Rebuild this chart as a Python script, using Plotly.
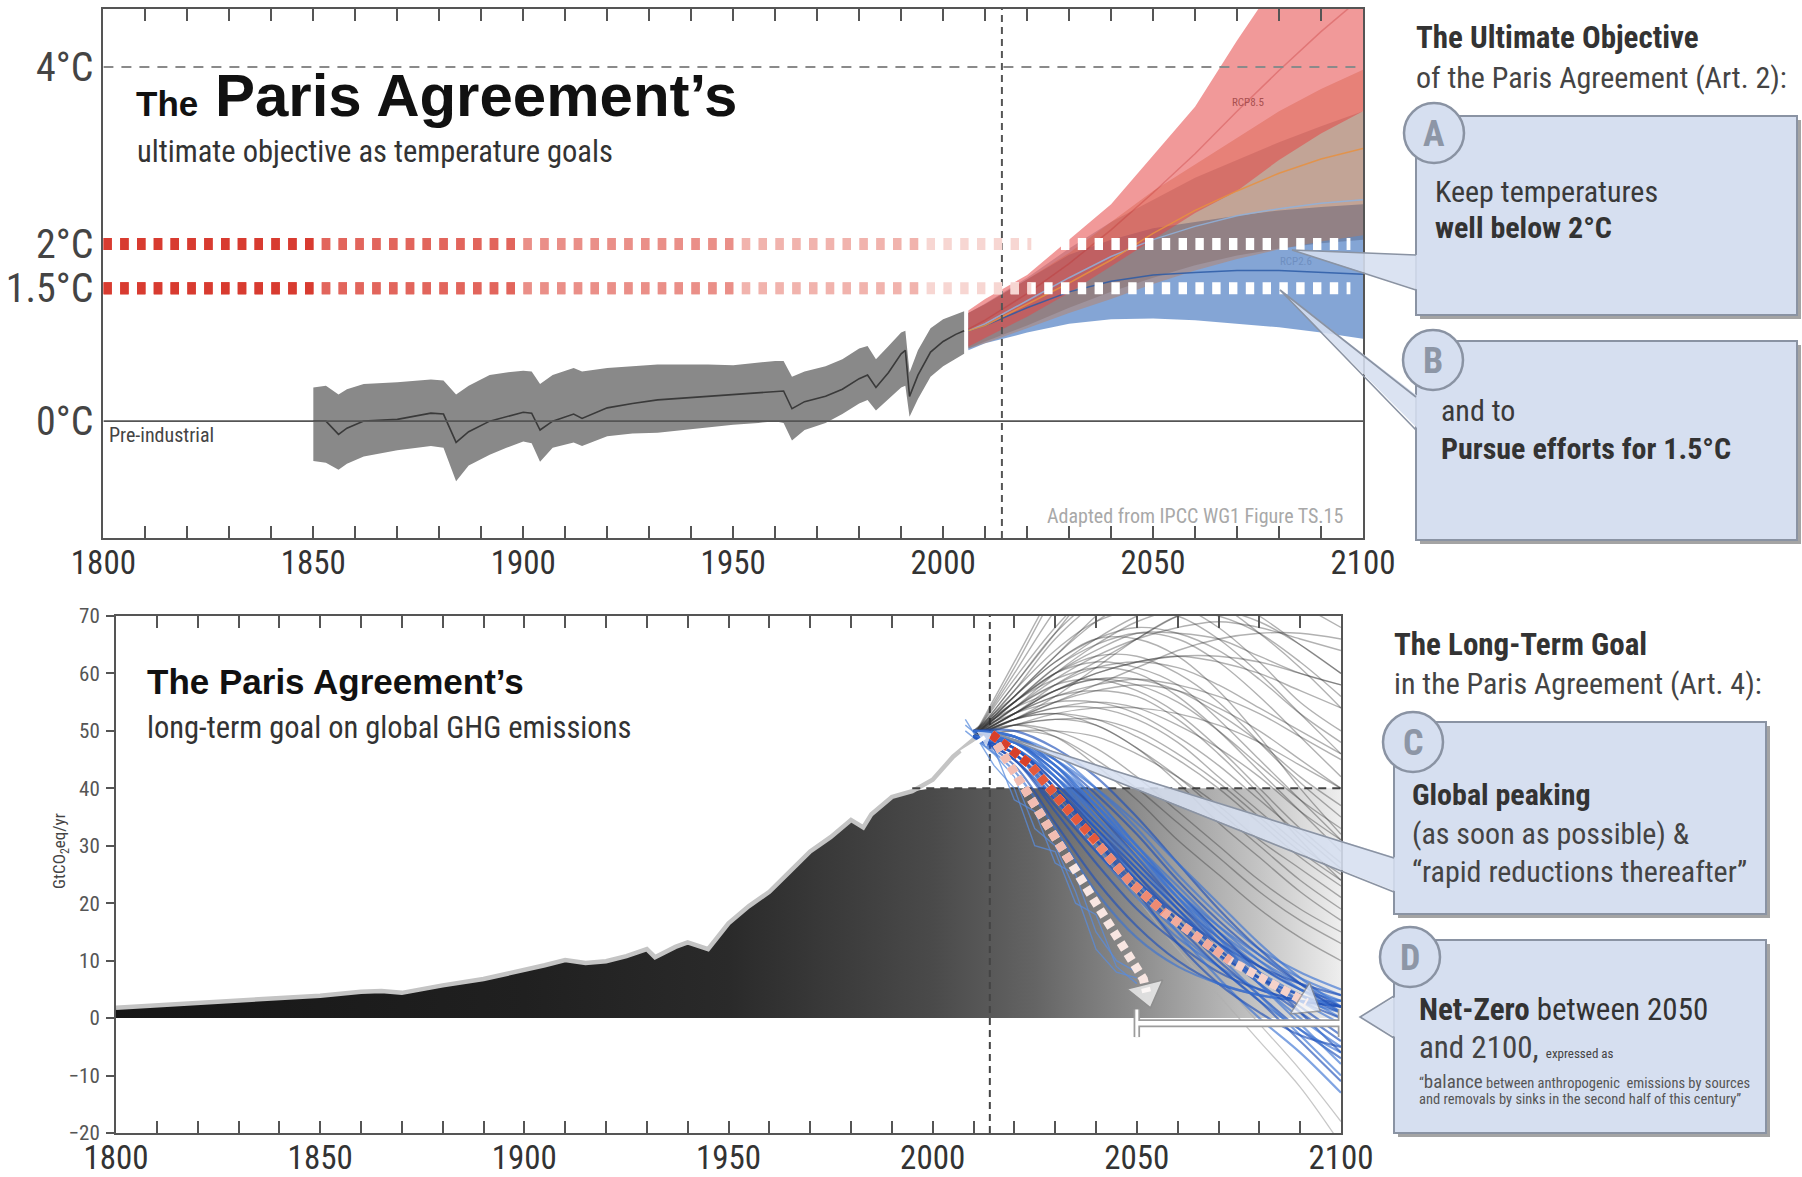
import numpy as np
import plotly.graph_objects as go

W, H = 1802, 1177
NARROW = "Roboto Condensed, DejaVu Sans Condensed, sans-serif"
SANS = "Liberation Sans, Arial, sans-serif"

# ---------------- temperature panel data (°C above pre-industrial) ----------------
hist_years = [1850, 1853, 1856, 1858, 1862, 1870, 1878, 1881, 1884, 1887, 1892, 1896, 1900, 1902,
              1904, 1907, 1912, 1914, 1920, 1926, 1932, 1938, 1944, 1950, 1956, 1960, 1962, 1964,
              1967, 1972, 1976, 1980, 1982, 1984, 1987, 1990, 1991, 1992, 1994, 1997, 2000, 2003, 2005]
hist_mean = [0.0, 0.0, -0.15, -0.08, 0.0, 0.02, 0.09, 0.08, -0.24, -0.12, 0.0, 0.05, 0.1, 0.09,
             -0.1, 0.0, 0.08, 0.03, 0.15, 0.2, 0.24, 0.26, 0.28, 0.3, 0.32, 0.34, 0.34, 0.14,
             0.22, 0.28, 0.36, 0.48, 0.52, 0.38, 0.55, 0.76, 0.8, 0.28, 0.52, 0.78, 0.9, 0.98, 1.02]
hist_lo = [-0.45, -0.47, -0.55, -0.48, -0.4, -0.33, -0.28, -0.3, -0.68, -0.5, -0.38, -0.3, -0.23, -0.25,
           -0.46, -0.3, -0.24, -0.28, -0.17, -0.14, -0.13, -0.1, -0.07, -0.04, -0.02, 0.0, -0.02, -0.22,
           -0.1, -0.02, 0.08, 0.2, 0.24, 0.12, 0.25, 0.38, 0.4, 0.05, 0.25, 0.5, 0.62, 0.7, 0.76]
hist_hi = [0.38, 0.4, 0.3, 0.36, 0.42, 0.44, 0.47, 0.46, 0.3, 0.4, 0.52, 0.55, 0.57, 0.56,
           0.42, 0.52, 0.6, 0.56, 0.6, 0.62, 0.64, 0.64, 0.64, 0.63, 0.66, 0.68, 0.68, 0.5,
           0.56, 0.62, 0.7, 0.82, 0.85, 0.7, 0.85, 1.0, 1.02, 0.55, 0.8, 1.05, 1.15, 1.2, 1.24]

proj_years = [2006, 2010, 2020, 2030, 2040, 2050, 2060, 2070, 2080, 2090, 2100]
rcp26_lo = [0.80, 0.88, 1.00, 1.10, 1.15, 1.16, 1.14, 1.10, 1.06, 1.00, 0.93]
rcp26_hi = [1.22, 1.32, 1.60, 1.88, 2.05, 2.18, 2.25, 2.32, 2.38, 2.42, 2.45]
rcp26_mean = [1.02, 1.08, 1.28, 1.46, 1.58, 1.65, 1.68, 1.70, 1.70, 1.68, 1.66]
rcp45_lo = [0.82, 0.90, 1.08, 1.28, 1.46, 1.62, 1.76, 1.87, 1.95, 2.01, 2.05]
rcp45_hi = [1.22, 1.33, 1.62, 1.95, 2.25, 2.50, 2.75, 2.95, 3.15, 3.33, 3.50]
rcp45_mean = [1.02, 1.10, 1.36, 1.62, 1.86, 2.05, 2.20, 2.32, 2.40, 2.46, 2.50]
rcp60_lo = [0.82, 0.88, 1.05, 1.22, 1.38, 1.55, 1.70, 1.83, 1.94, 2.03, 2.10]
rcp60_hi = [1.22, 1.32, 1.60, 1.90, 2.25, 2.60, 2.90, 3.20, 3.50, 3.75, 3.97]
rcp60_mean = [1.02, 1.08, 1.32, 1.56, 1.82, 2.12, 2.38, 2.60, 2.80, 2.96, 3.08]
rcp85_lo = [0.84, 0.94, 1.18, 1.45, 1.75, 2.05, 2.35, 2.60, 2.95, 3.25, 3.50]
rcp85_hi = [1.25, 1.38, 1.65, 2.05, 2.45, 3.00, 3.55, 4.30, 5.00, 5.60, 6.20]
rcp85_mean = [1.04, 1.14, 1.44, 1.78, 2.16, 2.58, 3.02, 3.50, 3.96, 4.40, 4.80]

goal_well_below = 2.0
goal_pursue = 1.5
ref_level_4c = 4.0
today_year = 2014

temp_ticks = [0, 1.5, 2, 4]
temp_tick_text = ["0°C", "1.5°C", "2°C", "4°C"]
year_ticks = [1800, 1850, 1900, 1950, 2000, 2050, 2100]

# ---------------- emissions panel data (GtCO2eq/yr) ----------------
em_years = [1800, 1810, 1820, 1830, 1840, 1850, 1860, 1865, 1870, 1880, 1890, 1900, 1905, 1910,
            1915, 1920, 1925, 1930, 1932, 1937, 1940, 1945, 1950, 1955, 1960, 1965, 1970, 1975,
            1980, 1983, 1985, 1990, 1995, 2000, 2005, 2010, 2012]
em_vals = [1.8, 2.2, 2.6, 3.0, 3.4, 3.9, 4.6, 4.7, 4.4, 5.7, 6.8, 8.3, 9.2, 10.1,
           9.6, 9.9, 10.8, 12.0, 10.6, 12.4, 13.2, 12.0, 16.5, 19.5, 22.0, 25.5, 29.0, 31.5,
           34.5, 33.2, 35.5, 38.5, 39.5, 41.5, 45.5, 48.5, 49.5]
budget_level = 40
net_zero_window = [2050, 2100]
em_ticks = list(range(-20, 71, 10))

scen_years = [2010, 2020, 2030, 2040, 2050, 2060, 2070, 2080, 2090, 2100]
grey_paths = [
    [49, 58, 67, 76, 84, 92, 98, 104, 108, 112],
    [49, 56, 63, 70, 76, 80, 84, 86, 88, 90],
    [49, 55, 61, 66, 70, 73, 74, 74, 73, 72],
    [49, 54, 59, 63, 66, 68, 69, 68, 66, 64],
    [50, 55, 60, 64, 67, 67, 66, 63, 60, 58],
    [49, 53, 57, 60, 62, 63, 62, 60, 57, 54],
    [49, 54, 58, 61, 62, 61, 58, 54, 50, 46],
    [49, 53, 56, 58, 59, 58, 56, 53, 49, 45],
    [50, 56, 62, 66, 68, 67, 64, 59, 53, 48],
    [49, 52, 55, 57, 58, 57, 54, 50, 45, 40],
    [49, 53, 57, 59, 59, 57, 53, 48, 42, 37],
    [49, 55, 60, 63, 63, 60, 55, 48, 41, 35],
    [49, 52, 54, 55, 54, 51, 47, 42, 36, 31],
    [49, 54, 58, 59, 57, 53, 47, 40, 33, 27],
    [50, 53, 55, 55, 53, 49, 44, 38, 32, 26],
    [49, 52, 53, 52, 49, 45, 40, 34, 28, 23],
    [49, 51, 52, 51, 47, 42, 36, 30, 24, 19],
    [49, 52, 53, 51, 47, 41, 34, 28, 22, 17],
    [49, 51, 50, 47, 42, 36, 30, 24, 19, 15],
    [49, 50, 49, 45, 40, 34, 28, 22, 17, 13],
    [49, 51, 49, 44, 38, 31, 25, 19, 14, 10],
    [49, 57, 66, 72, 74, 72, 68, 62, 55, 50],
    [49, 58, 67, 73, 76, 76, 74, 70, 65, 60],
    [49, 53, 58, 62, 66, 70, 72, 73, 73, 72],
    [49, 52, 55, 58, 61, 64, 66, 67, 67, 66],
    [50, 54, 57, 60, 62, 63, 63, 62, 60, 58],
    [49, 51, 53, 54, 54, 53, 51, 48, 44, 40],
    [49, 50, 50, 49, 46, 42, 37, 31, 26, 21],
    [49, 56, 62, 66, 66, 63, 57, 49, 40, 32],
    [49, 55, 60, 62, 61, 58, 52, 45, 38, 31],
    [49, 61, 74, 85, 94, 100, 105, 108, 110, 112],
    [49, 60, 71, 80, 86, 90, 92, 93, 93, 92],
    [49, 59, 68, 75, 79, 80, 79, 76, 72, 68],
    [49, 52, 56, 61, 66, 70, 71, 69, 65, 60],
    [49, 53, 56, 57, 56, 52, 46, 39, 31, 24],
    [49, 55, 61, 65, 67, 66, 62, 56, 49, 42],
    [49, 57, 64, 69, 71, 70, 66, 60, 53, 46],
    [49, 55, 59, 61, 60, 56, 50, 43, 36, 29],
    [49, 53, 57, 59, 58, 55, 50, 44, 38, 33],
    [49, 54, 60, 65, 69, 71, 70, 67, 62, 56],
    [49, 56, 63, 69, 73, 74, 72, 67, 61, 54],
    [49, 52, 54, 54, 52, 48, 42, 36, 30, 25],
    [49, 62, 75, 86, 95, 102, 108, 112, 115, 118],
    [49, 51, 52, 52, 50, 46, 41, 35, 29, 24],
]
pale_paths = [
    [49, 47, 41, 33, 24, 15, 7, -1, -9, -18],
    [49, 46, 39, 30, 21, 12, 4, -4, -12, -22],
]
blue_paths = [
    [49, 47, 40, 32, 24, 17, 11, 7, 4, 2],
    [49, 48, 42, 34, 26, 19, 13, 8, 4, 0],
    [50, 49, 44, 36, 28, 20, 13, 7, 2, -3],
    [49, 46, 38, 29, 21, 14, 9, 5, 3, 1],
    [49, 47, 41, 33, 25, 17, 10, 4, -2, -7],
    [50, 48, 43, 35, 27, 19, 11, 4, -3, -10],
    [49, 45, 36, 27, 19, 13, 8, 5, 3, 2],
    [49, 48, 44, 38, 30, 22, 15, 9, 5, 3],
    [49, 49, 45, 39, 32, 24, 17, 11, 6, 2],
    [50, 48, 42, 33, 24, 15, 7, 0, -6, -13],
    [49, 44, 34, 24, 16, 10, 6, 4, 3, 2],
    [49, 46, 38, 30, 22, 15, 9, 3, -2, -6],
    [49, 47, 40, 31, 22, 13, 6, 1, -3, -5],
    [50, 49, 46, 40, 33, 25, 18, 12, 8, 5],
    [49, 45, 37, 29, 22, 16, 11, 7, 4, 1],
    [49, 47, 42, 35, 28, 21, 15, 10, 6, 3],
    [49, 46, 39, 31, 23, 16, 9, 3, -4, -11],
    [49, 43, 33, 22, 14, 9, 6, 4, 3, 3],
    [49, 48, 43, 36, 29, 22, 15, 8, 1, -6],
    [50, 49, 45, 38, 30, 22, 14, 6, -1, -8],
    [50, 50, 47, 42, 35, 27, 19, 12, 6, 1],
    [49, 48, 45, 40, 34, 27, 20, 13, 7, 2],
    [49, 47, 41, 34, 27, 20, 14, 9, 5, 2],
    [50, 48, 43, 37, 30, 23, 16, 10, 5, 1],
    [49, 46, 40, 33, 26, 19, 12, 6, 1, -4],
    [49, 47, 42, 36, 29, 22, 16, 11, 7, 4],
    [50, 47, 40, 32, 25, 18, 12, 7, 3, 0],
    [49, 48, 44, 37, 29, 21, 13, 6, 0, -5],
    [49, 45, 38, 31, 24, 18, 13, 9, 6, 4],
    [50, 49, 44, 37, 29, 21, 14, 8, 3, -1],
]
early_years = [2008, 2015, 2020, 2025, 2030, 2035, 2040, 2045, 2050]
early_paths = [
    [51, 47, 38, 36, 27, 25, 15, 10, 8],
    [52, 44, 40, 30, 29, 20, 18, 9, 6],
    [50, 46, 42, 33, 30, 22, 12, 8, 7],
]

# guide arrows drawn over the emission pathways
peak_arrow_years = [2014.4, 2023.8, 2032.0, 2040.1, 2048.3, 2056.5, 2064.7, 2072.8, 2081.0, 2087.5, 2091.6]
peak_arrow_vals = [49.4, 44.2, 37.2, 30.8, 23.8, 18.5, 14.4, 10.0, 6.8, 4.5, 2.7]
fast_arrow_years = [2015.7, 2025.5, 2033.6, 2041.8, 2048.3, 2051.6, 2052.4]
fast_arrow_vals = [47.7, 36.6, 27.3, 17.9, 10.9, 6.8, 4.5]
peak_pointer_years = [2007.0, 2012.8]
peak_pointer_vals = [46.3, 48.9]

# ---------------- figure ----------------
fig = go.Figure()


def pxx(x):
    return x / W


def pxy(y):
    return 1 - y / H


T = dict(xaxis="x", yaxis="y")
B = dict(xaxis="x2", yaxis="y2")


def band(xs, lo, hi, color, ax):
    fig.add_trace(go.Scatter(x=xs, y=lo, mode="lines", line=dict(width=0), hoverinfo="skip", **ax))
    fig.add_trace(go.Scatter(x=xs, y=hi, mode="lines", line=dict(width=0), fill="tonexty",
                             fillcolor=color, hoverinfo="skip", **ax))


# historical simulations
band(hist_years, hist_lo, hist_hi, "#898989", T)
fig.add_trace(go.Scatter(x=hist_years, y=hist_mean, mode="lines", line=dict(color="#3a3a3a", width=1.6), **T))

# RCP projections
band(proj_years, rcp26_lo, rcp26_hi, "rgba(50,105,185,0.6)", T)
band(proj_years, rcp45_lo, rcp45_hi, "rgba(70,80,110,0.35)", T)
band(proj_years, rcp60_lo, rcp60_hi, "rgba(200,120,70,0.4)", T)
band(proj_years, rcp85_lo, rcp85_hi, "rgba(230,70,70,0.55)", T)
for m, c in [(rcp26_mean, "rgba(43,90,166,0.85)"), (rcp45_mean, "rgba(143,178,220,0.85)"),
             (rcp60_mean, "rgba(232,145,63,0.85)"), (rcp85_mean, "rgba(190,40,40,0.3)")]:
    fig.add_trace(go.Scatter(x=proj_years, y=m, mode="lines", line=dict(color=c, width=1.5), **T))

# reference lines
fig.add_trace(go.Scatter(x=[1800, 2100], y=[ref_level_4c] * 2, mode="lines",
                         line=dict(color="#8a8a8a", width=2, dash="10px,8px"), **T))
fig.add_trace(go.Scatter(x=[1800, 2100], y=[0, 0], mode="lines", line=dict(color="#555", width=1.6), **T))
fig.add_trace(go.Scatter(x=[today_year] * 2, y=[-1.32, 4.655], mode="lines",
                         line=dict(color="#555", width=2, dash="7px,5px"), **T))

# goal levels as thick dotted bars, red fading to white
goal_fade = [(2097, "#ffffff"), (2021, "#f7d6d2"), (1995, "#f1b3ad"), (1950, "#ea8f88"),
             (1900, "#e2655c"), (1850, "#d83b30")]
for level in [goal_well_below, goal_pursue]:
    for end, col in goal_fade:
        fig.add_trace(go.Scatter(x=[1800, end], y=[level, level], mode="lines",
                                 line=dict(color=col, width=12, dash="8.4px,8.4px"), **T))

fig.add_annotation(x=2072.5, y=3.6, xref="x", yref="y", text="RCP8.5", showarrow=False,
                   font=dict(size=11, color="#a85050", family=NARROW))
fig.add_annotation(x=2084, y=1.8, xref="x", yref="y", text="RCP2.6", showarrow=False,
                   font=dict(size=11, color="#6f8fc0", family=NARROW))

# ---------------- emissions panel traces ----------------
area_x = em_years + [2100]
area_y = np.minimum(em_vals, budget_level).tolist() + [budget_level]
fig.add_trace(go.Scatter(
    x=area_x, y=area_y, mode="lines", line=dict(width=0), fill="tozeroy",
    fillgradient=dict(type="horizontal", colorscale=[
        [0.0, "#161616"], [0.333, "#202020"], [0.5, "#2a2a2a"], [0.667, "#4a4a4a"],
        [0.75, "#646464"], [0.833, "#8c8c8c"], [0.933, "#c4c4c4"], [1.0, "#eeeeee"]]),
    hoverinfo="skip", **B))
fig.add_trace(go.Scatter(x=em_years, y=em_vals, mode="lines", line=dict(color="#c4c4c4", width=4.5), **B))

fig.add_trace(go.Scatter(x=[1995, 2100], y=[budget_level] * 2, mode="lines",
                         line=dict(color="#444", width=2, dash="8px,6px"), **B))
fig.add_trace(go.Scatter(x=[today_year] * 2, y=[-20, 70], mode="lines",
                         line=dict(color="#444", width=2, dash="7px,5px"), **B))

for p in grey_paths:
    fig.add_trace(go.Scatter(x=scen_years, y=p, mode="lines",
                             line=dict(color="rgba(50,50,50,0.38)", width=1.4, shape="spline"), **B))
for p in pale_paths:
    fig.add_trace(go.Scatter(x=scen_years, y=p, mode="lines",
                             line=dict(color="rgba(175,175,175,0.7)", width=1.3, shape="spline"), **B))
for p in early_paths:
    fig.add_trace(go.Scatter(x=early_years, y=p, mode="lines",
                             line=dict(color="rgba(90,140,220,0.75)", width=1.4), **B))
for i, p in enumerate(blue_paths):
    col = "rgba(30,80,185,0.65)" if i % 2 == 0 else "rgba(60,115,210,0.65)"
    fig.add_trace(go.Scatter(x=scen_years, y=p, mode="lines",
                             line=dict(color=col, width=2.2, shape="spline"), **B))

# net-zero window bracket
nz0, nz1 = net_zero_window
for col, w in [("#9c9c9c", 8), ("#ffffff", 4.5)]:
    fig.add_trace(go.Scatter(x=[nz0, nz1], y=[-0.9, -0.9], mode="lines", line=dict(color=col, width=w), **B))
    fig.add_trace(go.Scatter(x=[nz0, nz0, None, nz1, nz1], y=[-3.3, 1.5, None, -3.3, 1.5], mode="lines",
                             line=dict(color=col, width=w - 1.5), **B))

# dotted guide arrows (red fading to white)
for n, col in [(len(peak_arrow_years), "#f6d2ca"), (8, "#f3ab9c"), (6, "#ee8a72"), (4, "#e4593c"), (2, "#d8402a")]:
    fig.add_trace(go.Scatter(x=peak_arrow_years[:n], y=peak_arrow_vals[:n], mode="lines",
                             line=dict(color=col, width=9, dash="8px,5px"), **B))
for n, col in [(len(fast_arrow_years), "#f8e6e2"), (3, "#f2bdb2")]:
    fig.add_trace(go.Scatter(x=fast_arrow_years[:n], y=fast_arrow_vals[:n], mode="lines",
                             line=dict(color=col, width=9, dash="8px,5px"), **B))
for xs, ys in [(peak_arrow_years, peak_arrow_vals), (fast_arrow_years, fast_arrow_vals)]:
    fig.add_trace(go.Scatter(x=xs[-2:], y=ys[-2:], mode="markers",
                             marker=dict(symbol="triangle-up", size=[0, 32], angleref="previous",
                                         color="#ffffff", line=dict(color="#8c8c8c", width=1.5)), **B))

# white pointer onto the emissions peak
fig.add_trace(go.Scatter(x=peak_pointer_years, y=peak_pointer_vals, mode="lines+markers",
                         line=dict(color="#ffffff", width=4),
                         marker=dict(symbol="triangle-up", size=[0, 14], angleref="previous", color="#ffffff"), **B))

# ---------------- axes ----------------
tick_font = dict(family=NARROW, size=33, color="#333")
axis_common = dict(showgrid=False, zeroline=False, showline=True, linecolor="#555", linewidth=2,
                   mirror=True, automargin=False)
x_common = dict(range=[1800, 2100], tickvals=year_ticks, ticks="inside", ticklen=12, tickwidth=2, tickcolor="#555",
                minor=dict(ticks="inside", dtick=10, tick0=1800, ticklen=12, tickwidth=2, tickcolor="#555"),
                tickfont=tick_font, ticklabelstandoff=-6)
fig.update_layout(
    width=W, height=H, margin=dict(l=0, r=0, t=0, b=0, autoexpand=False),
    paper_bgcolor="white", plot_bgcolor="white", showlegend=False,
    xaxis=dict(domain=[103.4 / W, 1363 / W], anchor="y", **x_common, **{**axis_common, "mirror": "ticks"}),
    yaxis=dict(domain=[1 - 538 / H, 1 - 9 / H], range=[-1.32, 4.655], anchor="x",
               tickvals=temp_ticks, ticktext=temp_tick_text, ticks="",
               tickfont=dict(family=NARROW, size=40, color="#444"), ticklabelstandoff=0, **axis_common),
    xaxis2=dict(domain=[116 / W, 1341 / W], anchor="y2", **x_common, **{**axis_common, "mirror": "ticks"}),
    yaxis2=dict(domain=[1 - 1133 / H, 1 - 616 / H], range=[-20, 70], anchor="x2",
                tickvals=em_ticks,
                ticktext=[("−" + str(-v)) if v < 0 else str(v) for v in em_ticks],
                ticks="outside", ticklen=8, tickwidth=2, tickcolor="#555",
                tickfont=dict(family=NARROW, size=21, color="#555"), ticklabelstandoff=2, **axis_common),
    # inner tick marks along the right spine of the emissions panel
    yaxis3=dict(overlaying="y2", side="right", anchor="x2", range=[-20, 70], tickvals=em_ticks,
                ticks="inside", ticklen=8, tickwidth=2, tickcolor="#555", showticklabels=False,
                showline=False, showgrid=False, zeroline=False, automargin=False),
)


# ---------------- text ----------------
def txt(x, y, s, size, color="#333", anchor="left", family=NARROW, yanchor="middle", angle=0):
    fig.add_annotation(x=pxx(x), y=pxy(y), xref="paper", yref="paper", text=s, showarrow=False,
                       xanchor=anchor, yanchor=yanchor, textangle=angle,
                       font=dict(size=size, color=color, family=family))


txt(134, 95, '<b><span style="font-size:35px">The</span> Paris Agreement’s</b>', 60, "#111", family=SANS)
txt(135, 151, "ultimate objective as temperature goals", 30.5, "#333")
txt(107, 435, "Pre-industrial", 20, "#444")
txt(1345, 516, "Adapted from IPCC WG1 Figure TS.15", 20, "#a8a8a8", anchor="right")

txt(145, 681, "<b>The Paris Agreement’s</b>", 35, "#111", family=SANS)
txt(145, 727, "long-term goal on global GHG emissions", 30.5, "#333")
txt(60, 851, "GtCO<sub>2</sub>eq/yr", 17, "#444", anchor="center", angle=-90)

txt(1414, 37, "<b>The Ultimate Objective</b>", 31, "#333")
txt(1414, 77, "of the Paris Agreement (Art. 2):", 30, "#444")
txt(1392, 644, "<b>The Long-Term Goal</b>", 31, "#333")
txt(1392, 683, "in the Paris Agreement (Art. 4):", 30, "#444")

# ---------------- callout boxes ----------------
shapes = []
BOX_FILL = "#d6dff0"
EDGE = "#8a93a3"


def path(points, close=True):
    s = "M " + " L ".join(f"{pxx(x):.5f},{pxy(y):.5f}" for x, y in points)
    return s + (" Z" if close else "")


def box(x0, y0, x1, y1):
    shapes.append(dict(type="rect", xref="paper", yref="paper", x0=pxx(x0 + 4), x1=pxx(x1 + 4),
                       y0=pxy(y1 + 4), y1=pxy(y0 + 4), fillcolor="rgba(90,90,90,0.55)", line=dict(width=0)))
    shapes.append(dict(type="rect", xref="paper", yref="paper", x0=pxx(x0), x1=pxx(x1),
                       y0=pxy(y1), y1=pxy(y0), fillcolor=BOX_FILL, line=dict(color=EDGE, width=2)))


def wedge(apex, b1, b2):
    shapes.append(dict(type="path", xref="paper", yref="paper",
                       path=path([apex, (b1[0] + 3, b1[1]), (b2[0] + 3, b2[1])]),
                       fillcolor="rgba(214,223,240,0.88)", line=dict(width=0)))
    shapes.append(dict(type="path", xref="paper", yref="paper", path=path([b1, apex, b2], close=False),
                       fillcolor="rgba(0,0,0,0)", line=dict(color=EDGE, width=1.6)))


def badge(cx, cy, letter, r=30):
    shapes.append(dict(type="circle", xref="paper", yref="paper", x0=pxx(cx - r), x1=pxx(cx + r),
                       y0=pxy(cy + r), y1=pxy(cy - r), fillcolor=BOX_FILL, line=dict(color=EDGE, width=2.5)))
    txt(cx, cy + 1, f"<b>{letter}</b>", 36, "#8d96a6", anchor="center")


box(1416, 116, 1797, 315)
wedge((1292, 250), (1416, 255), (1416, 290))
badge(1434, 133, "A")
box(1416, 341, 1797, 540)
wedge((1280, 290), (1416, 397), (1416, 430))
badge(1433, 360, "B")
box(1394, 722, 1766, 914)
wedge((1000, 735), (1394, 858), (1394, 892))
badge(1413, 742, "C")
box(1394, 940, 1766, 1133)
wedge((1360, 1017), (1394, 996), (1394, 1038))
badge(1410, 957, "D")

fig.update_layout(shapes=[dict(s, layer="above") for s in shapes])

txt(1433, 191, "Keep temperatures", 30, "#3a3a3a")
txt(1433, 227, "<b>well below 2°C</b>", 30, "#333")
txt(1439, 410, "and to", 30, "#3a3a3a")
txt(1439, 448, "<b>Pursue efforts for 1.5°C</b>", 30, "#333")
txt(1410, 794, "<b>Global peaking</b>", 30, "#333")
txt(1410, 833, "(as soon as possible) &", 30, "#444")
txt(1410, 871, "“rapid reductions thereafter”", 30, "#444")
txt(1417, 1009, "<b>Net-Zero</b> between 2050", 31, "#333")
txt(1417, 1047, 'and 2100, <span style="font-size:13px">expressed as</span>', 31, "#444")
txt(1417, 1081, '“<span style="font-size:19px">balance</span> between anthropogenic  emissions by sources', 14.5, "#555")
txt(1417, 1099, "and removals by sinks in the second half of this century”", 14.5, "#555")

fig.write_html("out.html")
